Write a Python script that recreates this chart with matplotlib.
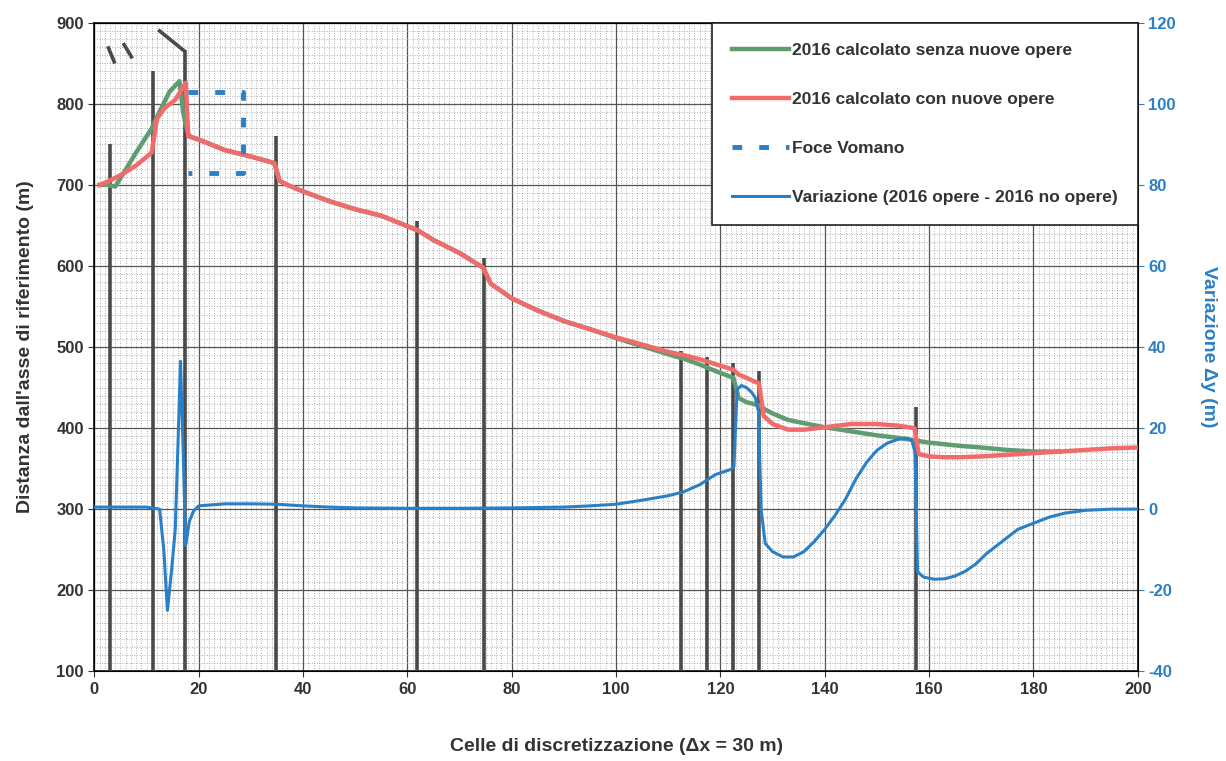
import matplotlib
matplotlib.use("Agg")
import matplotlib.pyplot as plt
from matplotlib.ticker import MultipleLocator
from matplotlib.lines import Line2D

plt.rcParams['font.family'] = ['Liberation Sans', 'DejaVu Sans']
plt.rcParams['axes.unicode_minus'] = False

# shoreline, 2016 computed with the new works (left axis, m)
red_x = [1, 2.5, 5, 8, 11, 12, 13.5, 15.5, 17.5, 18, 20, 25, 30, 34.5, 35.5, 37, 40, 45,
         50, 55, 60, 62, 65, 70, 74.5, 76, 80, 85, 90, 95, 100, 105, 110, 113, 116, 119,
         122.5, 123.5, 125, 127.4, 128.3, 130, 133, 136, 140, 145, 150, 154, 157.2, 158,
         160, 163, 166, 170, 175, 180, 185, 190, 195, 200]
red_y = [700, 704, 712, 724, 740, 782, 795, 805, 826, 760, 756, 743, 735, 727, 705, 700, 692, 680,
         670, 662, 649, 644, 632, 616, 598, 578, 560, 545, 532, 522, 512, 503, 494, 490, 485, 479,
         472, 466, 462, 455, 415, 405, 398, 398, 401, 405, 405, 403, 400, 368,
         365, 364, 364, 365, 367, 369, 371, 373, 375, 376]

# shoreline, 2016 computed without the new works (left axis, m)
green_x = [1, 2.5, 4, 8, 11, 12, 14.4, 16.3, 17, 17.5, 18, 18.6, 20, 25, 30, 34.5, 35.5, 37, 40,
           45, 50, 55, 60, 62, 65, 70, 74.5, 76, 80, 85, 90, 95, 100, 105, 110, 113, 116, 119,
           122.5, 123.5, 125, 127.4, 128.3, 130, 133, 136, 140, 145, 150, 154, 157.2, 158, 160,
           163, 166, 170, 175, 180, 185]
green_y = [700, 700, 698, 740, 770, 784, 815, 828, 790, 775, 762, 759, 756, 743, 735, 727, 705, 700, 692,
           680, 670, 662, 649, 644, 632, 616, 598, 578, 560, 545, 532, 522, 511, 501, 491, 485.5, 478.5, 470.5,
           462, 437, 432, 428, 424, 418, 410, 406, 401, 396, 391, 388, 385, 384, 382,
           380, 378, 376, 373, 371, 371]

# difference 2016 with works - 2016 without works (right axis, m)
var_x = [0, 5, 10, 12.5, 13.3, 14, 14.8, 15.5, 16, 16.5, 17, 17.5, 18.2, 19, 20, 25, 30, 35, 40,
         45, 50, 60, 70, 80, 90, 95, 100, 105, 110, 113, 116, 119, 122, 122.6, 123.2, 124, 125,
         126, 126.7, 127.3, 127.8, 128.6, 130, 132, 134, 136, 138, 140, 142, 144, 146, 148, 150,
         152, 154, 155.5, 156.7, 157.3, 157.8, 159, 161, 163, 165, 167, 169, 171, 173, 175, 177,
         180, 183, 186, 190, 195, 200]
var_y = [0.5, 0.5, 0.5, 0, -10, -25, -15, -5, 15, 36.5, 15, -9, -3, -0.5, 0.8, 1.3, 1.3, 1.2, 0.8,
         0.5, 0.3, 0.2, 0.2, 0.3, 0.5, 0.8, 1.2, 2.2, 3.3, 4.3, 6, 8.5, 9.8, 10.5, 29.5, 30.5, 30,
         28.8, 27.5, 24, 0, -8.5, -10.5, -11.8, -11.8, -10.5, -8, -5, -1.5, 2.5, 7.5, 11.5, 14.5,
         16.3, 17.2, 17.5, 17, 14, -15.5, -16.8, -17.3, -17.2, -16.5, -15.3, -13.5, -11, -9, -7, -5,
         -3.5, -2, -1, -0.3, 0, 0]

# river mouth outline
foce_x = [18, 28.5, 28.5, 18]
foce_y = [815, 815, 715, 715]

# groynes / structures: cell and top of the line (m)
groyne_x = [3, 11.2, 17.3, 34.8, 61.8, 74.7, 112.5, 117.5, 122.4, 127.4, 157.5]
groyne_top = [750, 840, 865, 760, 655, 610, 495, 488, 480, 470, 426]
jetty_x = [12.5, 17.3]
jetty_y = [890, 865]
marks_x = [[2.7, 3.8], [5.7, 7.1]]
marks_y = [[869, 852], [873, 858]]

c_red = '#f26b6b'
c_green = '#5f9c70'
c_blue = '#2a80c6'
c_struct = '#4a4a4a'
c_text = '#333333'

fig = plt.figure(figsize=(12.26, 7.61), dpi=100)
ax = fig.add_axes([0.077, 0.118, 0.851, 0.852])
ax2 = ax.twinx()

ax.set_xlim(0, 200)
ax.set_ylim(100, 900)
ax2.set_ylim(-40, 120)

ax.xaxis.set_major_locator(MultipleLocator(20))
ax.xaxis.set_minor_locator(MultipleLocator(1))
ax.yaxis.set_major_locator(MultipleLocator(100))
ax.yaxis.set_minor_locator(MultipleLocator(10))
ax2.yaxis.set_major_locator(MultipleLocator(20))

ax.grid(which='minor', color='#9a9a9a', lw=0.6, linestyle=(0, (1, 2)))
ax.grid(which='major', color='#555555', lw=0.9)
ax.tick_params(which='minor', length=0)
ax.set_axisbelow(True)

# structures
ax.vlines(groyne_x, 100, groyne_top, color=c_struct, lw=2.6, zorder=3)
ax.plot(jetty_x, jetty_y, color=c_struct, lw=2.6, zorder=3)
for mx, my in zip(marks_x, marks_y):
    ax.plot(mx, my, color=c_struct, lw=2.6, zorder=3)

ax.plot(green_x, green_y, color=c_green, lw=3.2, zorder=4)
ax.plot(red_x, red_y, color=c_red, lw=3.2, zorder=5)
ax.plot(foce_x, foce_y, color=c_blue, lw=3.5, linestyle=(0, (2, 3.5)), zorder=5)
ax2.plot(var_x, var_y, color=c_blue, lw=2.2, zorder=6)

for s in ax.spines.values():
    s.set_linewidth(1.3)
    s.set_color('#222222')

ax.tick_params(axis='both', which='major', labelsize=12, colors=c_text, length=4)
ax2.tick_params(axis='y', labelsize=12, colors=c_blue, length=4)
for lab in ax.get_xticklabels() + ax.get_yticklabels():
    lab.set_fontweight('bold')
for lab in ax2.get_yticklabels():
    lab.set_fontweight('bold')

ax.set_xlabel('Celle di discretizzazione (\u0394x = 30 m)', fontsize=14, fontweight='bold',
              color=c_text, labelpad=30)
ax.set_ylabel("Distanza dall'asse di riferimento (m)", fontsize=14, fontweight='bold',
              color=c_text, labelpad=16)
ax2.set_ylabel('Variazione \u0394y (m)', fontsize=14, fontweight='bold', color=c_blue,
               rotation=-90, labelpad=30)

handles = [
    Line2D([], [], color=c_green, lw=3.2),
    Line2D([], [], color=c_red, lw=3.2),
    Line2D([], [], color=c_blue, lw=3.5, linestyle=(0, (2, 3.5))),
    Line2D([], [], color=c_blue, lw=2.2),
]
labels = ['2016 calcolato senza nuove opere', '2016 calcolato con nuove opere',
          'Foce Vomano', 'Variazione (2016 opere - 2016 no opere)']
leg = ax2.legend(handles, labels, loc='upper right', bbox_to_anchor=(1.0, 1.0),
                 borderaxespad=0, fancybox=False, framealpha=1, edgecolor='#222222',
                 handlelength=3.3, handletextpad=0.15, labelspacing=1.95, borderpad=1.15,
                 prop={'size': 12.5, 'weight': 'bold'})
leg.get_frame().set_linewidth(1.2)
for t in leg.get_texts():
    t.set_color(c_text)
leg.set_zorder(20)

fig.savefig('out.png', dpi=100)
